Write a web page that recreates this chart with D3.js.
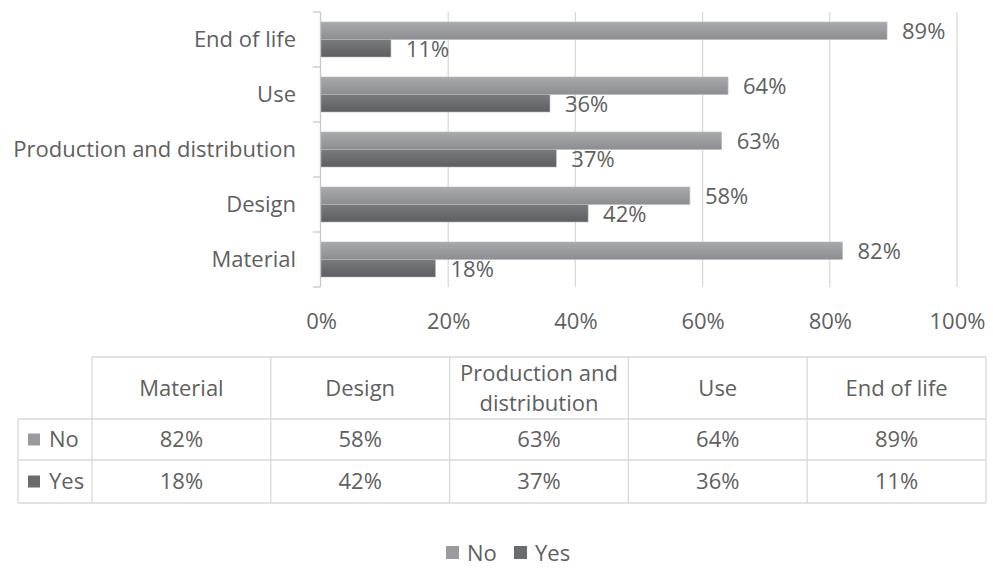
<!DOCTYPE html>
<html><head><meta charset="utf-8">
<script src="https://cdn.jsdelivr.net/npm/d3@7"></script>
<style>html,body{margin:0;padding:0;background:#fff;}svg{display:block;font-family:"Open Sans",sans-serif;}</style>
</head><body>
<svg id="c" width="993" height="570"></svg>
<script>
const categories = ["Material", "Design", "Production and distribution", "Use", "End of life"];
const headerLines = [["Material"], ["Design"], ["Production and", "distribution"], ["Use"], ["End of life"]];
const noValues = [82, 58, 63, 64, 89];
const yesValues = [18, 42, 37, 36, 11];
const seriesNames = ["No", "Yes"];
const xTicks = [0, 20, 40, 60, 80, 100];

const svg = d3.select("#c");
const textColor = "#5f5f5f";
const gridColor = "#d9d9d9";
const fs = 22;
const ff = "'Open Sans',sans-serif";

const defs = svg.append("defs");
function grad(id, top, bottom) {
  const g = defs.append("linearGradient").attr("id", id).attr("x1", 0).attr("y1", 0).attr("x2", 0).attr("y2", 1);
  g.append("stop").attr("offset", "0%").attr("stop-color", top);
  g.append("stop").attr("offset", "100%").attr("stop-color", bottom);
}
grad("gNo", "#a9aaae", "#8c8d91");
grad("gYes", "#7a7b7f", "#5d5e62");
const fills = {No: "url(#gNo)", Yes: "url(#gYes)"};
const solid = {No: "#9a9b9f", Yes: "#6a6b6f"};

const x = d3.scaleLinear().domain([0, 100]).range([321, 957]);
const y = d3.scaleBand().domain(categories.slice().reverse()).range([12, 287]).paddingInner(0.3636).paddingOuter(0.1818);
const ys = d3.scaleBand().domain(seriesNames).range([0, y.bandwidth()]);

// gridlines
svg.append("g").selectAll("line").data(xTicks.filter(t => t > 0)).join("line")
  .attr("x1", d => x(d)).attr("x2", d => x(d)).attr("y1", 12).attr("y2", 287)
  .attr("stroke", gridColor).attr("stroke-width", 1.3);

// x axis labels
const xAxis = d3.axisBottom(x).tickValues(xTicks).tickFormat(d => d + "%").tickSize(0).tickPadding(0);
const xa = svg.append("g").attr("transform", "translate(0,321)").call(xAxis);
xa.select(".domain").remove();
xa.selectAll("text").attr("font-size", fs).attr("fill", textColor).attr("font-family", ff).attr("dy", "0.35em").attr("y", 0);

// y axis
const yAxis = d3.axisLeft(y).tickSize(0).tickPadding(24);
const ya = svg.append("g").attr("transform", "translate(320,0)").call(yAxis);
ya.select(".domain").remove();
ya.selectAll("text").attr("font-size", fs).attr("fill", textColor).attr("font-family", ff);
svg.append("line").attr("x1", 320.5).attr("x2", 320.5).attr("y1", 12).attr("y2", 287).attr("stroke", "#c8c8c8").attr("stroke-width", 1.3);
const bounds = d3.range(categories.length + 1).map(i => 12 + i * y.step());
svg.append("g").selectAll("line").data(bounds).join("line")
  .attr("x1", 313).attr("x2", 320.5).attr("y1", d => d).attr("y2", d => d)
  .attr("stroke", "#c8c8c8").attr("stroke-width", 1.3);

// bars
const rows = categories.map((c, i) => ({cat: c, No: noValues[i], Yes: yesValues[i]}));
const gBars = svg.append("g");
seriesNames.forEach(s => {
  gBars.selectAll("rect." + s).data(rows).join("rect").attr("class", s)
    .attr("x", x(0)).attr("y", d => y(d.cat) + ys(s))
    .attr("width", d => x(d[s]) - x(0)).attr("height", ys.bandwidth())
    .attr("fill", fills[s]).attr("stroke", "#b8b9bc").attr("stroke-width", 0.6);
  gBars.selectAll("text." + s).data(rows).join("text").attr("class", s)
    .attr("x", d => x(d[s]) + 15).attr("y", d => y(d.cat) + ys(s) + ys.bandwidth() / 2 + 1)
    .attr("dy", "0.35em").attr("font-size", fs).attr("fill", textColor)
    .text(d => d[s] + "%");
});

// data table
const col = d3.scaleBand().domain(categories).range([92, 986]);
const rowTop = {header: 357, No: 419, Yes: 460, end: 503};
const tg = svg.append("g");
const lineAttrs = sel => sel.attr("stroke", gridColor).attr("stroke-width", 1.3);
tg.append("line").attr("x1", 92).attr("x2", 986).attr("y1", rowTop.header).attr("y2", rowTop.header).call(lineAttrs);
[rowTop.No, rowTop.Yes, rowTop.end].forEach(yy => {
  tg.append("line").attr("x1", 18).attr("x2", 986).attr("y1", yy).attr("y2", yy).call(lineAttrs);
});
tg.append("line").attr("x1", 18).attr("x2", 18).attr("y1", rowTop.No).attr("y2", rowTop.end).call(lineAttrs);
categories.forEach(c => {
  tg.append("line").attr("x1", col(c)).attr("x2", col(c)).attr("y1", rowTop.header).attr("y2", rowTop.end).call(lineAttrs);
});
tg.append("line").attr("x1", 986).attr("x2", 986).attr("y1", rowTop.header).attr("y2", rowTop.end).call(lineAttrs);
categories.forEach((c, i) => {
  const lines = headerLines[i];
  const cy = (rowTop.header + rowTop.No) / 2;
  const lh = 30;
  lines.forEach((ln, j) => {
    tg.append("text").attr("x", col(c) + col.bandwidth() / 2)
      .attr("y", cy + (j - (lines.length - 1) / 2) * lh).attr("dy", "0.35em")
      .attr("text-anchor", "middle").attr("font-size", fs).attr("fill", textColor).text(ln);
  });
});
const series = {No: noValues, Yes: yesValues};
seriesNames.forEach((s, si) => {
  const top = si === 0 ? rowTop.No : rowTop.Yes;
  const bot = si === 0 ? rowTop.Yes : rowTop.end;
  const cy = (top + bot) / 2;
  tg.append("rect").attr("x", 28).attr("y", cy - 6).attr("width", 12).attr("height", 12).attr("fill", solid[s]);
  tg.append("text").attr("x", 49).attr("y", cy).attr("dy", "0.35em").attr("font-size", fs).attr("fill", textColor).text(s);
  categories.forEach((c, i) => {
    tg.append("text").attr("x", col(c) + col.bandwidth() / 2).attr("y", cy).attr("dy", "0.35em")
      .attr("text-anchor", "middle").attr("font-size", fs).attr("fill", textColor).text(series[s][i] + "%");
  });
});

// legend
const lg = svg.append("g");
const legendX = {No: 446, Yes: 514};
seriesNames.forEach(s => {
  lg.append("rect").attr("x", legendX[s]).attr("y", 546).attr("width", 13).attr("height", 13).attr("fill", solid[s]);
  lg.append("text").attr("x", legendX[s] + 21).attr("y", 553).attr("dy", "0.35em").attr("font-size", fs).attr("fill", textColor).text(s);
});
</script>
</body></html>
